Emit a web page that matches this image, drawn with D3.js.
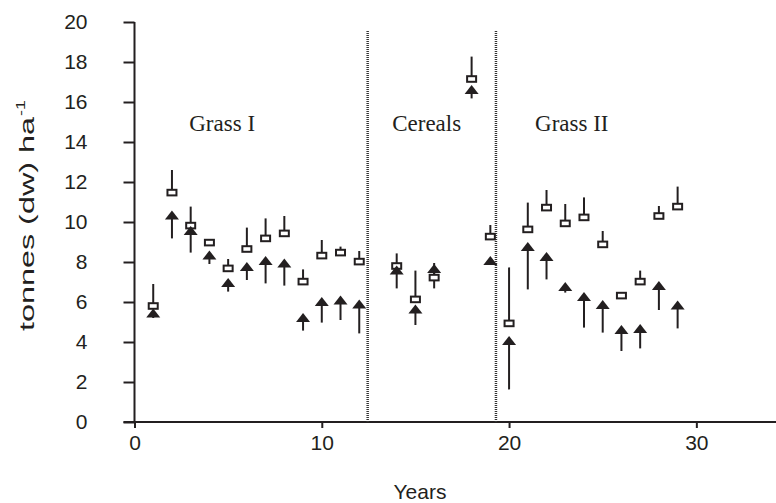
<!DOCTYPE html>
<html>
<head>
<meta charset="utf-8">
<script src="https://cdn.jsdelivr.net/npm/d3@7"></script>
<style>
  html, body { margin: 0; padding: 0; background: #fff; }
  svg { display: block; }
</style>
</head>
<body>
<svg id="chart" width="776" height="503"></svg>
<script>
// ---- data ----
const years = [1,2,3,4,5,6,7,8,9,10,11,12,14,15,16,18,19,20,21,22,23,24,25,26,27,28,29];
const squareValues = [5.8,11.47,9.82,8.97,7.68,8.65,9.18,9.43,7.02,8.32,8.47,8.02,7.8,6.13,7.22,17.15,9.27,4.93,9.63,10.72,9.93,10.23,8.88,6.32,7.02,10.3,10.77];
const squareUpper = [6.9,12.6,10.77,8.97,8.15,9.72,10.18,10.3,7.63,9.1,8.77,8.55,8.43,7.57,7.95,18.27,9.85,7.73,10.97,11.6,10.9,11.23,9.55,6.32,7.57,10.8,11.77];
const triangleValues = [5.4,10.3,9.52,8.3,6.93,7.72,8.02,7.9,5.18,5.98,6.05,5.85,7.55,5.6,7.63,16.57,8.02,4.02,8.73,8.23,6.73,6.23,5.82,4.57,4.63,6.77,5.8];
const triangleLower = [5.2,9.18,8.47,7.9,6.52,7.1,6.93,6.82,4.57,4.97,5.1,4.43,6.68,4.85,6.68,16.18,8.02,1.63,6.63,7.13,6.47,4.72,4.47,3.55,3.68,5.6,4.68];
const dividers = [12.45, 19.3];
const dividerTop = 19.55;
const periodLabels = ["Grass I", "Cereals", "Grass II"];
const periodLabelX = [4.68, 15.6, 23.35];
const periodLabelY = 14.57;
const xTicks = [0, 10, 20, 30];
const yTicks = [0,2,4,6,8,10,12,14,16,18,20];
const xTitle = "Years";
const yTitle = "tonnes (dw) ha";
const yTitleSup = "-1";

// ---- layout ----
const ink = "#231f20";
const sans = "'Liberation Sans', Arial, sans-serif";
const svg = d3.select("#chart");
const x = d3.scaleLinear().domain([0, 34.6]).range([134.5, 782.5]);
const y = d3.scaleLinear().domain([0, 20]).range([422, 22]);

// axes
const yAxis = d3.axisLeft(y).tickValues(yTicks).tickSize(11).tickPadding(36).tickSizeOuter(0);
const gy = svg.append("g").attr("transform", `translate(${x(0)},0)`).call(yAxis);
const xAxis = d3.axisBottom(x).tickValues(xTicks).tickSize(6).tickPadding(7).tickSizeOuter(0);
const gx = svg.append("g").attr("transform", `translate(0,${y(0)})`).call(xAxis);
[gx, gy].forEach(g => {
  g.select(".domain").remove();
  g.selectAll(".tick line").attr("stroke", ink).attr("stroke-width", 2);
  g.selectAll(".tick text").attr("fill", ink)
    .style("font-family", sans).style("font-size", "21px");
});
svg.append("line").attr("x1", x(0)).attr("x2", x(0)).attr("y1", y(20)).attr("y2", y(0))
  .attr("stroke", ink).attr("stroke-width", 2);
svg.append("line").attr("x1", x(0) - 11).attr("x2", 776).attr("y1", y(0)).attr("y2", y(0))
  .attr("stroke", ink).attr("stroke-width", 2);

// divider lines
svg.append("g").selectAll("line").data(dividers).join("line")
  .attr("x1", d => x(d)).attr("x2", d => x(d))
  .attr("y1", y(dividerTop)).attr("y2", y(0))
  .attr("stroke", "#333").attr("stroke-width", 2.5).attr("stroke-dasharray", "1 1");

// period labels
svg.append("g").selectAll("text").data(periodLabels).join("text")
  .attr("x", (d, i) => x(periodLabelX[i])).attr("y", y(periodLabelY))
  .attr("text-anchor", "middle").attr("fill", ink)
  .style("font-family", "'Liberation Serif', 'Times New Roman', serif").style("font-size", "23px")
  .text(d => d);

// data
const pts = years.map((yr, i) => ({
  yr, s: squareValues[i], sU: squareUpper[i], t: triangleValues[i], tL: triangleLower[i]
}));
const g = svg.append("g");
g.selectAll(".serr").data(pts).join("line").attr("class", "serr")
  .attr("x1", d => x(d.yr)).attr("x2", d => x(d.yr))
  .attr("y1", d => y(d.s)).attr("y2", d => y(d.sU))
  .attr("stroke", ink).attr("stroke-width", 2);
g.selectAll(".terr").data(pts).join("line").attr("class", "terr")
  .attr("x1", d => x(d.yr)).attr("x2", d => x(d.yr))
  .attr("y1", d => y(d.t)).attr("y2", d => y(d.tL))
  .attr("stroke", ink).attr("stroke-width", 2);
g.selectAll(".sq").data(pts).join("rect").attr("class", "sq")
  .attr("x", d => x(d.yr) - 4.5).attr("y", d => y(d.s) - 2.8)
  .attr("width", 9).attr("height", 5.6)
  .attr("fill", "#fff").attr("stroke", ink).attr("stroke-width", 2);
g.selectAll(".tri").data(pts).join("path").attr("class", "tri")
  .attr("d", d => {
    const cx = x(d.yr), cy = y(d.t);
    return `M${cx},${cy - 5.5}L${cx + 7},${cy + 3.5}L${cx - 7},${cy + 3.5}Z`;
  })
  .attr("fill", ink);

// axis titles
svg.append("text").attr("x", 420).attr("y", 499)
  .attr("text-anchor", "middle").attr("fill", ink)
  .style("font-family", sans).style("font-size", "21px")
  .text(xTitle);
const yt = svg.append("text").attr("transform", "translate(34,331) rotate(-90)")
  .attr("text-anchor", "start").attr("fill", ink)
  .style("font-family", sans).style("font-size", "21px");
yt.append("tspan").attr("textLength", 214).attr("lengthAdjust", "spacingAndGlyphs").text(yTitle);
yt.append("tspan").attr("dy", -9).attr("dx", 1).style("font-size", "13px")
  .attr("textLength", 16).attr("lengthAdjust", "spacingAndGlyphs").text(yTitleSup);
</script>
</body>
</html>
